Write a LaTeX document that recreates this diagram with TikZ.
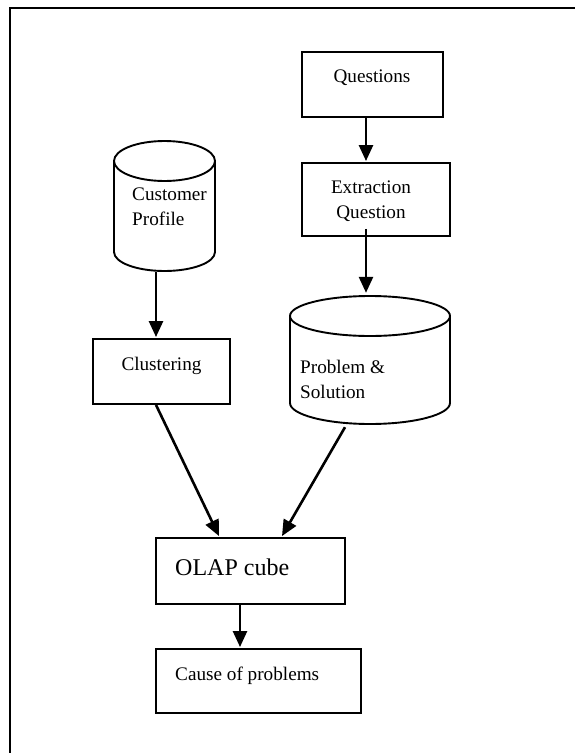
\documentclass[tikz,border=0pt]{standalone}
\usepackage{fontspec}
\setmainfont{Liberation Serif}
\usetikzlibrary{arrows.meta,calc}

\tikzset{
  box/.style={draw, line width=1.9pt, inner sep=0pt, rectangle},
  area/.style={inner sep=0pt, rectangle, draw=none},
  cyl/.style={line width=1.9pt},
  txt/.style={inner sep=0pt, font=\fontsize{19.2}{25}\selectfont},
  bigtxt/.style={inner sep=0pt, font=\fontsize{24}{28}\selectfont},
  arr/.style={line width=2.6pt, -{Triangle[length=16pt,width=14pt]}},
}

\begin{document}
\begin{tikzpicture}[x=1pt,y=-1pt]
\useasboundingbox (0,0) rectangle (575,753);

% outer frame (top and left edges)
\draw[line width=1.9pt] (575,8) -- (10,8) -- (10,753);

% rectangular steps
\node[box, minimum width=141pt, minimum height=65pt] (q)     at (372.5,84.5) {};
\node[box, minimum width=148pt, minimum height=73pt] (ex)    at (376,199.5)  {};
\node[box, minimum width=137pt, minimum height=65pt] (clus)  at (161.5,371.5) {};
\node[box, minimum width=189pt, minimum height=66pt] (olap)  at (250.5,571)  {};
\node[box, minimum width=205pt, minimum height=64pt] (cause) at (258.5,681)  {};

% database areas (outlines drawn below)
\node[area, minimum width=101pt, minimum height=130pt] (cp) at (164.5,206) {};
\node[area, minimum width=160pt, minimum height=128pt] (ps) at (370,360)   {};

% Customer Profile cylinder
\draw[cyl] (114,161) -- (114,252) arc[start angle=180, end angle=360, x radius=50.5pt, y radius=19pt]
           -- (215,161);
\draw[cyl] (164.5,161) ellipse [x radius=50.5pt, y radius=20pt];

% Problem & Solution cylinder
\draw[cyl] (290,316) -- (290,403) arc[start angle=180, end angle=360, x radius=80pt, y radius=21pt]
           -- (450,316);
\draw[cyl] (370,316) ellipse [x radius=80pt, y radius=20pt];

% labels
\node[txt, anchor=base] (tq) at (372,82) {Questions};
\node[txt, anchor=base] (te1) at (371,193) {Extraction};
\node[txt, anchor=base] (te2) at (371,218) {Question};
\node[txt, anchor=base west] (tc1) at (132,200) {Customer};
\node[txt, anchor=base west] (tc2) at (132,225) {Profile};
\node[txt, anchor=base] (tcl) at (161.5,370) {Clustering};
\node[txt, anchor=base west] (tp1) at (300,373) {Problem \&};
\node[txt, anchor=base west] (tp2) at (300,398) {Solution};
\node[bigtxt, anchor=base west] (to) at (175,575) {OLAP cube};
\node[txt, anchor=base west] (tca) at (175,680) {Cause of problems};

% flow
\draw[arr] ($(q.south)+(-6.5,0)$) -- ($(ex.north)+(-10,-1)$);
\draw[arr] ($(ex.south)+(-10,-8)$) -- ($(ps.north)+(-4,-3)$);
\draw[arr] ($(cp.south)+(-8.5,1)$) -- ($(clus.north)+(-5.5,-1)$);
\draw[arr] ($(clus.south)+(-5.5,0)$) -- ($(olap.north)+(-31.5,-1)$);
\draw[arr] ($(ps.south)+(-25,3)$) -- ($(olap.north)+(31.5,-1)$);
\draw[arr] ($(olap.south)+(-10.5,0)$) -- ($(cause.north)+(-18.5,-1)$);
\end{tikzpicture}
\end{document}
